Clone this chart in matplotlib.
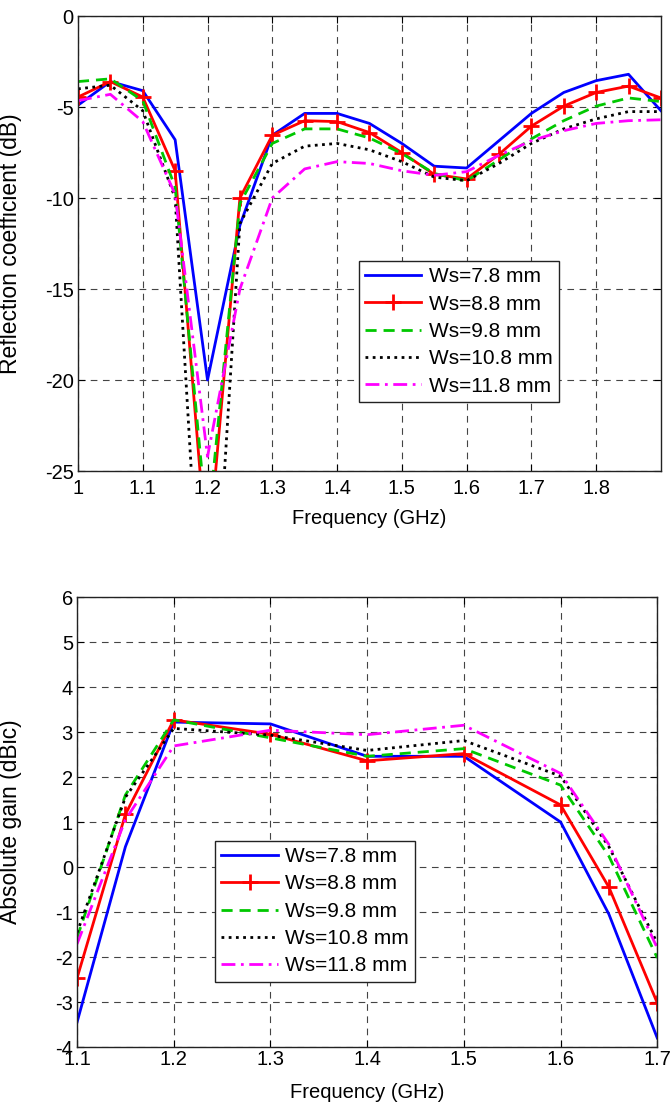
import matplotlib
matplotlib.use("Agg")
import matplotlib.pyplot as plt

plt.rcParams['font.family'] = ['Liberation Sans', 'DejaVu Sans']
plt.rcParams['axes.unicode_minus'] = False

# ---- reflection coefficient data (dB) ----
freq_s11 = [1.0, 1.05, 1.1, 1.15, 1.2, 1.25, 1.3, 1.35, 1.4, 1.45,
            1.5, 1.55, 1.6, 1.65, 1.7, 1.75, 1.8, 1.85, 1.9]
s11_78 = [-4.9, -3.6, -4.1, -6.8, -20.0, -11.5, -6.55, -5.35, -5.35, -5.9,
          -7.0, -8.25, -8.35, -6.85, -5.35, -4.2, -3.55, -3.2, -5.2]
s11_88 = [-4.45, -3.6, -4.45, -8.5, -30.0, -10.0, -6.55, -5.75, -5.8, -6.4,
          -7.5, -8.7, -8.95, -7.6, -6.05, -4.95, -4.2, -3.85, -4.5]
s11_98 = [-3.6, -3.45, -4.65, -9.4, -28.3, -10.3, -7.0, -6.2, -6.2, -6.7,
          -7.55, -8.65, -9.05, -7.9, -6.75, -5.75, -4.95, -4.5, -4.7]
s11_108 = [-4.0, -3.8, -5.2, -10.0, -40.0, -11.4, -8.1, -7.15, -7.0, -7.35,
           -8.0, -8.85, -9.05, -8.1, -7.0, -6.2, -5.65, -5.25, -5.25]
s11_118 = [-4.65, -4.3, -5.8, -9.8, -24.2, -15.0, -10.0, -8.4, -8.0, -8.1,
           -8.5, -8.75, -8.55, -7.65, -6.85, -6.3, -5.9, -5.75, -5.7]

# ---- absolute gain data (dBic) ----
freq_gain = [1.1, 1.15, 1.2, 1.3, 1.4, 1.5, 1.6, 1.65, 1.7]
gain_78 = [-3.45, 0.45, 3.22, 3.18, 2.46, 2.46, 1.0, -1.05, -3.8]
gain_88 = [-2.47, 1.17, 3.27, 2.95, 2.36, 2.52, 1.38, -0.45, -3.02]
gain_98 = [-1.57, 1.6, 3.27, 2.87, 2.46, 2.63, 1.82, 0.24, -2.02]
gain_108 = [-1.46, 1.55, 3.08, 2.93, 2.59, 2.81, 2.02, 0.45, -1.69]
gain_118 = [-1.71, 1.05, 2.69, 3.04, 2.94, 3.15, 2.08, 0.5, -1.8]

labels = ["Ws=7.8 mm", "Ws=8.8 mm", "Ws=9.8 mm", "Ws=10.8 mm", "Ws=11.8 mm"]

s11_xticks = [1.0, 1.1, 1.2, 1.3, 1.4, 1.5, 1.6, 1.7, 1.8]
s11_xticklabels = ["1", "1.1", "1.2", "1.3", "1.4", "1.5", "1.6", "1.7", "1.8"]
s11_yticks = [-25, -20, -15, -10, -5, 0]
gain_xticks = [1.1, 1.2, 1.3, 1.4, 1.5, 1.6, 1.7]
gain_xticklabels = ["1.1", "1.2", "1.3", "1.4", "1.5", "1.6", "1.7"]
gain_yticks = [-4, -3, -2, -1, 0, 1, 2, 3, 4, 5, 6]

styles = [
    dict(color="#0000ff", linestyle="-"),
    dict(color="#ff0000", linestyle="-", marker="+", markersize=12, markeredgewidth=2),
    dict(color="#00c800", linestyle=(0, (4, 2.5))),
    dict(color="#000000", linestyle=(0, (1, 1.6))),
    dict(color="#ff00ff", linestyle=(0, (5, 2, 1, 2))),
]

fs = 14.5      # tick labels / x labels
fs_leg = 15
fs_ylab = 16.5

fig = plt.figure(figsize=(6.7, 11.07), dpi=100)
ax1 = fig.add_axes([0.1164, 0.5745, 0.870, 0.411])
ax2 = fig.add_axes([0.115, 0.0542, 0.866, 0.4065])


def style_axes(ax, xpad):
    ax.grid(True, color="#444444", linestyle=(0, (6, 5)), linewidth=0.8)
    ax.tick_params(direction="in", top=True, right=True, labelsize=fs, length=5,
                   width=0.8)
    ax.tick_params(axis="x", pad=xpad)
    ax.tick_params(axis="y", pad=3)
    for sp in ax.spines.values():
        sp.set_linewidth(1.0)
        sp.set_color("#222222")


def add_legend(ax, anchor):
    leg = ax.legend(loc="upper left", bbox_to_anchor=anchor, fontsize=fs_leg,
                    fancybox=False, framealpha=1, edgecolor="#222222",
                    handlelength=2.7, handletextpad=0.35, labelspacing=0.4,
                    borderpad=0.3, borderaxespad=0)
    leg.get_frame().set_linewidth(1.0)


# top chart
for ys, st, lab in zip([s11_78, s11_88, s11_98, s11_108, s11_118], styles, labels):
    ax1.plot(freq_s11, ys, linewidth=2, label=lab, **st)
ax1.set_xlim(1.0, 1.9)
ax1.set_ylim(-25, 0)
ax1.set_xticks(s11_xticks)
ax1.set_xticklabels(s11_xticklabels)
ax1.set_yticks(s11_yticks)
ax1.set_xlabel("Frequency (GHz)", fontsize=fs, labelpad=8)
ax1.set_ylabel("Reflection coefficient (dB)", fontsize=fs_ylab)
ax1.yaxis.set_label_coords(-0.096, 0.5)
style_axes(ax1, 6)
add_legend(ax1, (0.482, 0.4615))

# bottom chart
for ys, st, lab in zip([gain_78, gain_88, gain_98, gain_108, gain_118], styles, labels):
    ax2.plot(freq_gain, ys, linewidth=2, label=lab, **st)
ax2.set_xlim(1.1, 1.7)
ax2.set_ylim(-4, 6)
ax2.set_xticks(gain_xticks)
ax2.set_xticklabels(gain_xticklabels)
ax2.set_yticks(gain_yticks)
ax2.set_xlabel("Frequency (GHz)", fontsize=fs, labelpad=10)
ax2.set_ylabel("Absolute gain (dBic)", fontsize=fs_ylab)
ax2.yaxis.set_label_coords(-0.095, 0.5)
style_axes(ax2, 2)
add_legend(ax2, (0.238, 0.458))

fig.savefig("out.png", dpi=100)
